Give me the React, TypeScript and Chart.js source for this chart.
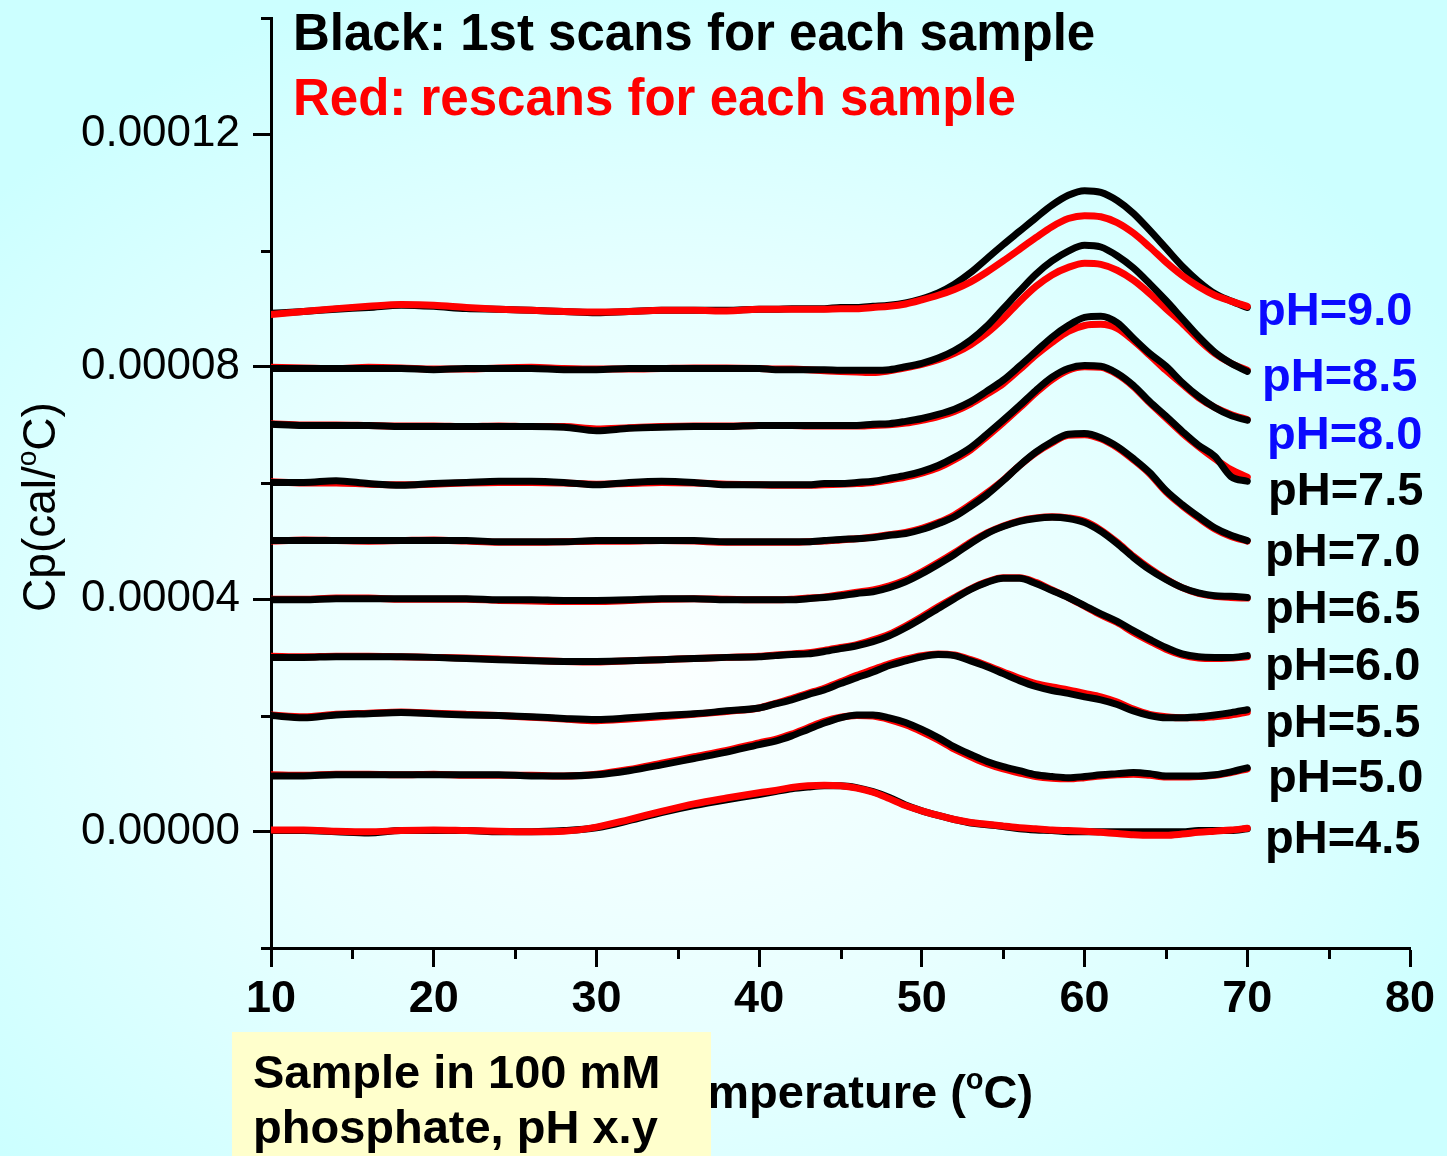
import React, { useEffect, useRef } from 'react';
import { Chart, registerables } from 'chart.js';

Chart.register(...registerables);

// Temperature grid (°C)
const temperatures = [
  10, 12, 14, 16, 18, 20, 22, 24, 26, 28, 30, 32, 34, 36, 38, 40,
  41, 42, 43, 44, 45, 46, 47, 48, 49, 50, 51, 52, 53, 54, 55, 56, 57, 58, 59, 60,
  61, 62, 63, 64, 65, 66, 67, 68, 69, 70,
];

// Cp values in units of 1e-6 cal/°C
const ph45First = [0.2, 0.2, 0.0, -0.2, 0.2, 0.2, 0.2, 0.0, 0.0, 0.2, 0.7, 1.9, 3.3, 4.5, 5.5, 6.4,
  6.9, 7.4, 7.7, 7.9, 7.9, 7.6, 6.9, 5.9, 4.6, 3.6, 2.8, 2.1, 1.5, 1.2, 0.9, 0.5, 0.3, 0.2, 0.0, 0.0,
  0.0, 0.0, 0.0, 0.0, 0.0, 0.0, 0.2, 0.2, 0.2, 0.5];
const ph45Rescan = [0.3, 0.3, 0.1, 0.0, 0.2, 0.3, 0.2, 0.1, 0.0, 0.1, 0.8, 2.1, 3.5, 4.8, 5.8, 6.7,
  7.1, 7.6, 7.9, 8.0, 7.9, 7.5, 6.8, 5.7, 4.5, 3.6, 2.8, 2.1, 1.6, 1.3, 1.0, 0.7, 0.5, 0.3, 0.2, 0.1,
  -0.1, -0.3, -0.5, -0.6, -0.6, -0.4, -0.1, 0.1, 0.3, 0.6];

const ph50First = [9.6, 9.6, 9.8, 9.8, 9.8, 9.8, 9.8, 9.8, 9.6, 9.6, 9.8, 10.5, 11.5, 12.6, 13.7, 15.0,
  15.6, 16.5, 17.6, 18.7, 19.6, 20.1, 20.1, 19.6, 18.8, 17.6, 16.2, 14.6, 13.3, 12.1, 11.2, 10.5, 9.8, 9.5, 9.3, 9.5,
  9.8, 10.0, 10.2, 10.0, 9.6, 9.6, 9.6, 9.8, 10.3, 11.0];
const ph50Rescan = [9.8, 9.7, 9.9, 9.9, 9.8, 9.9, 9.7, 9.7, 9.7, 9.6, 9.9, 10.7, 11.8, 12.9, 14.0, 15.3,
  15.9, 16.8, 17.9, 19.0, 19.7, 20.0, 19.9, 19.3, 18.4, 17.2, 15.8, 14.2, 12.9, 11.7, 10.8, 10.1, 9.5, 9.2, 9.1, 9.3,
  9.6, 9.8, 9.9, 9.7, 9.4, 9.4, 9.5, 9.7, 10.2, 10.8];

const ph55First = [20.0, 19.6, 20.1, 20.3, 20.5, 20.3, 20.1, 20.0, 19.8, 19.5, 19.3, 19.6, 20.0, 20.3, 20.8, 21.3,
  22.0, 22.7, 23.6, 24.4, 25.5, 26.5, 27.5, 28.6, 29.4, 30.1, 30.5, 30.3, 29.4, 28.4, 27.2, 26.0, 25.0, 24.3, 23.8, 23.2,
  22.7, 21.9, 20.8, 20.0, 19.6, 19.6, 19.8, 20.1, 20.5, 21.0];
const ph55Rescan = [20.1, 19.8, 20.2, 20.4, 20.6, 20.4, 20.2, 20.0, 19.7, 19.4, 19.1, 19.4, 19.8, 20.2, 20.7, 21.3,
  22.1, 22.9, 23.8, 24.7, 25.8, 26.9, 27.9, 28.9, 29.7, 30.3, 30.6, 30.4, 29.6, 28.6, 27.5, 26.4, 25.5, 24.9, 24.4, 23.8,
  23.2, 22.3, 21.1, 20.2, 19.8, 19.6, 19.6, 19.8, 20.1, 20.6];

const ph60First = [30.0, 30.0, 30.1, 30.1, 30.1, 30.0, 29.8, 29.6, 29.4, 29.3, 29.3, 29.4, 29.6, 29.8, 30.0, 30.1,
  30.3, 30.5, 30.6, 31.0, 31.5, 32.0, 32.7, 33.7, 35.1, 36.7, 38.4, 40.1, 41.7, 42.9, 43.6, 43.6, 42.7, 41.5, 40.3, 38.9,
  37.5, 36.2, 34.6, 33.1, 31.7, 30.6, 30.1, 30.0, 30.0, 30.3];
const ph60Rescan = [30.2, 30.1, 30.2, 30.2, 30.1, 30.0, 29.9, 29.7, 29.5, 29.3, 29.2, 29.4, 29.6, 29.8, 30.0, 30.2,
  30.4, 30.6, 30.8, 31.2, 31.7, 32.2, 33.0, 34.0, 35.4, 37.0, 38.7, 40.3, 41.8, 43.0, 43.7, 43.7, 42.9, 41.6, 40.3, 38.8,
  37.3, 36.0, 34.3, 32.8, 31.4, 30.4, 29.9, 29.8, 29.9, 30.1];

const ph65First = [39.9, 39.9, 40.1, 40.1, 40.1, 40.1, 40.1, 39.9, 39.9, 39.8, 39.8, 39.9, 40.1, 40.1, 39.9, 39.9,
  39.9, 39.9, 40.1, 40.3, 40.6, 41.0, 41.3, 42.0, 43.0, 44.4, 46.0, 47.7, 49.6, 51.3, 52.5, 53.4, 53.9, 54.1, 53.9, 53.2,
  51.7, 49.6, 47.2, 45.1, 43.4, 42.0, 41.1, 40.6, 40.5, 40.3];
const ph65Rescan = [40.0, 40.0, 40.2, 40.2, 40.0, 40.0, 40.0, 39.8, 39.7, 39.6, 39.6, 39.8, 40.0, 40.1, 40.0, 39.9,
  39.9, 40.0, 40.2, 40.4, 40.8, 41.2, 41.6, 42.3, 43.3, 44.7, 46.3, 48.0, 49.8, 51.4, 52.6, 53.5, 54.0, 54.2, 54.0, 53.4,
  51.9, 49.8, 47.4, 45.3, 43.5, 42.0, 41.0, 40.5, 40.3, 40.2];

const ph70First = [50.1, 50.1, 50.1, 50.1, 50.1, 50.1, 50.1, 49.9, 49.9, 49.9, 50.1, 50.1, 50.1, 50.1, 49.9, 49.9,
  49.9, 49.9, 49.9, 50.1, 50.3, 50.4, 50.6, 51.0, 51.3, 52.0, 53.0, 54.2, 56.0, 58.0, 60.4, 63.0, 65.3, 67.1, 68.4, 68.5,
  67.8, 66.3, 64.2, 61.8, 58.7, 56.3, 54.2, 52.3, 51.0, 50.1];
const ph70Rescan = [50.0, 50.2, 50.1, 50.0, 50.1, 50.2, 50.0, 49.8, 49.8, 49.9, 50.0, 50.0, 50.1, 50.0, 49.8, 49.8,
  49.8, 49.8, 49.9, 50.0, 50.2, 50.4, 50.7, 51.1, 51.5, 52.2, 53.2, 54.5, 56.3, 58.3, 60.5, 63.0, 65.2, 66.9, 68.2, 68.3,
  67.6, 66.1, 64.0, 61.6, 58.5, 56.1, 54.0, 52.1, 50.8, 50.0];

const ph75First = [60.1, 60.1, 60.4, 59.9, 59.6, 59.9, 60.1, 60.3, 60.3, 60.1, 59.7, 60.1, 60.3, 60.1, 59.7, 59.7,
  59.7, 59.7, 59.7, 59.9, 59.9, 60.1, 60.3, 60.8, 61.3, 62.0, 63.0, 64.4, 66.1, 68.4, 70.8, 73.3, 75.9, 78.2, 79.7, 80.2,
  80.1, 78.9, 76.8, 74.0, 71.5, 68.9, 66.5, 64.6, 61.1, 60.3];
const ph75Rescan = [60.2, 60.0, 60.0, 59.8, 59.7, 59.8, 60.0, 60.1, 60.1, 60.0, 59.8, 59.9, 60.1, 60.0, 59.8, 59.7,
  59.6, 59.6, 59.6, 59.7, 59.8, 59.9, 60.1, 60.5, 61.0, 61.7, 62.6, 64.0, 65.7, 68.0, 70.4, 72.9, 75.5, 77.8, 79.4, 80.0,
  79.9, 78.7, 76.6, 73.8, 71.2, 68.6, 66.3, 64.2, 62.3, 61.0];

const ph80First = [70.1, 69.9, 69.9, 69.9, 69.7, 69.7, 69.7, 69.7, 69.7, 69.6, 69.0, 69.4, 69.6, 69.7, 69.7, 69.9,
  69.9, 69.9, 69.9, 69.9, 69.9, 69.9, 70.1, 70.2, 70.6, 71.1, 71.8, 72.7, 74.0, 75.8, 77.7, 80.1, 82.6, 85.1, 87.1, 88.5,
  88.7, 87.6, 84.9, 82.3, 80.1, 77.3, 74.9, 73.0, 71.6, 70.8];
const ph80Rescan = [70.2, 70.0, 70.0, 69.9, 69.8, 69.8, 69.7, 69.8, 69.7, 69.7, 69.3, 69.5, 69.7, 69.8, 69.8, 69.9,
  69.9, 69.9, 69.8, 69.8, 69.8, 69.8, 69.9, 70.0, 70.3, 70.8, 71.4, 72.3, 73.6, 75.3, 77.1, 79.5, 82.0, 84.2, 86.1, 87.1,
  87.3, 86.6, 84.5, 82.0, 79.4, 77.0, 74.7, 73.0, 71.8, 70.9];

const ph85First = [79.7, 79.7, 79.7, 79.7, 79.7, 79.5, 79.7, 79.7, 79.7, 79.5, 79.5, 79.7, 79.7, 79.7, 79.7, 79.7,
  79.5, 79.5, 79.5, 79.5, 79.4, 79.4, 79.4, 79.5, 80.0, 80.6, 81.5, 82.8, 84.6, 87.0, 90.0, 93.0, 95.9, 98.2, 99.9, 100.9,
  100.6, 99.1, 97.0, 94.3, 91.4, 88.3, 85.2, 82.5, 80.6, 79.2];
const ph85Rescan = [79.9, 79.8, 79.7, 79.9, 79.8, 79.6, 79.6, 79.8, 79.9, 79.7, 79.6, 79.6, 79.7, 79.8, 79.8, 79.7,
  79.6, 79.6, 79.5, 79.3, 79.2, 79.1, 79.0, 79.3, 79.8, 80.4, 81.2, 82.3, 83.8, 85.8, 88.3, 91.2, 93.8, 95.8, 97.1, 97.8,
  97.6, 96.6, 94.9, 92.6, 90.0, 87.5, 84.7, 82.3, 80.6, 79.4];

const ph90First = [89.2, 89.5, 89.9, 90.2, 90.6, 90.4, 90.0, 89.9, 89.7, 89.5, 89.3, 89.5, 89.7, 89.7, 89.7, 89.9,
  89.9, 90.0, 90.0, 90.0, 90.2, 90.2, 90.4, 90.6, 91.0, 91.7, 92.7, 94.2, 96.2, 98.6, 101.0, 103.3, 105.6, 107.8, 109.5, 110.3,
  110.0, 108.6, 106.4, 103.5, 100.4, 97.3, 94.7, 92.6, 91.3, 90.2];
const ph90Rescan = [89.0, 89.5, 90.0, 90.4, 90.7, 90.6, 90.2, 89.9, 89.7, 89.5, 89.4, 89.5, 89.7, 89.7, 89.6, 89.9,
  89.9, 89.9, 89.9, 89.9, 90.0, 90.0, 90.2, 90.4, 90.8, 91.5, 92.3, 93.3, 94.6, 96.3, 98.2, 100.2, 102.2, 104.1, 105.5, 106.0,
  105.8, 104.8, 103.0, 100.6, 98.0, 95.7, 93.8, 92.3, 91.3, 90.4];

const phLabels = ['pH=4.5', 'pH=5.0', 'pH=5.5', 'pH=6.0', 'pH=6.5', 'pH=7.0', 'pH=7.5', 'pH=8.0', 'pH=8.5', 'pH=9.0'];
const firstScans = [ph45First, ph50First, ph55First, ph60First, ph65First, ph70First, ph75First, ph80First, ph85First, ph90First];
const rescans = [ph45Rescan, ph50Rescan, ph55Rescan, ph60Rescan, ph65Rescan, ph70Rescan, ph75Rescan, ph80Rescan, ph85Rescan, ph90Rescan];
const redOnTop = [true, false, false, false, false, false, false, false, false, true];

const UNIT = 1e-6;

// styling / layout (not data)
const labelColors = ['#000', '#000', '#000', '#000', '#000', '#000', '#000', '#0a0aff', '#0a0aff', '#0a0aff'];
const labelPos = [
  { x: 1265, y: 840 }, { x: 1268, y: 779 }, { x: 1265, y: 724 }, { x: 1265, y: 667 }, { x: 1265, y: 610 },
  { x: 1265, y: 553 }, { x: 1268, y: 492 }, { x: 1267, y: 436 }, { x: 1262, y: 378 }, { x: 1257, y: 312 },
];
const FONT = '"Liberation Sans", Arial, Helvetica, sans-serif';
const W = 1447;
const H = 1156;

function drawParts(ctx: CanvasRenderingContext2D, parts: { t: string; f: string; dy: number }[], x: number, y: number) {
  let total = 0;
  for (const p of parts) { ctx.font = p.f; total += ctx.measureText(p.t).width; }
  let cx = x - total / 2;
  ctx.textAlign = 'left';
  ctx.textBaseline = 'alphabetic';
  for (const p of parts) {
    ctx.font = p.f;
    ctx.fillText(p.t, cx, y + p.dy);
    cx += ctx.measureText(p.t).width;
  }
}

const overlayPlugin = {
  id: 'overlay',
  afterDraw(chart: any) {
    const ctx: CanvasRenderingContext2D = chart.ctx;
    const xs = chart.scales.x;
    const ys = chart.scales.y;
    ctx.save();
    // minor ticks
    ctx.strokeStyle = '#000';
    ctx.lineWidth = 3;
    ctx.lineCap = 'butt';
    xs.ticks.forEach((t: any) => {
      if (t.label === '') {
        const px = Math.round(xs.getPixelForValue(t.value)) + 0.5;
        ctx.beginPath();
        ctx.moveTo(px, chart.chartArea.bottom);
        ctx.lineTo(px, chart.chartArea.bottom + 11);
        ctx.stroke();
      }
    });
    ys.ticks.forEach((t: any) => {
      if (t.label === '') {
        const py = Math.round(ys.getPixelForValue(t.value)) + 0.5;
        ctx.beginPath();
        ctx.moveTo(chart.chartArea.left, py);
        ctx.lineTo(chart.chartArea.left - 10, py);
        ctx.stroke();
      }
    });

    // headings
    ctx.textAlign = 'left';
    ctx.textBaseline = 'alphabetic';
    ctx.font = `bold 51px ${FONT}`;
    ctx.fillStyle = '#000';
    ctx.fillText('Black: 1st scans for each sample', 293, 50);
    ctx.fillStyle = '#ff0000';
    ctx.fillText('Red: rescans for each sample', 293, 115);

    // pH labels
    ctx.font = `bold 47px ${FONT}`;
    ctx.textBaseline = 'middle';
    phLabels.forEach((lab, i) => {
      ctx.fillStyle = labelColors[i];
      ctx.fillText(lab, labelPos[i].x, labelPos[i].y);
    });

    // axis titles
    ctx.fillStyle = '#000';
    const cx = (chart.chartArea.left + chart.chartArea.right) / 2 + 4;
    drawParts(ctx, [
      { t: 'Temperature (', f: `bold 47px ${FONT}`, dy: 0 },
      { t: 'o', f: `bold 29px ${FONT}`, dy: -19 },
      { t: 'C)', f: `bold 47px ${FONT}`, dy: 0 },
    ], cx, 1108);

    ctx.save();
    ctx.translate(55, 507);
    ctx.rotate(-Math.PI / 2);
    drawParts(ctx, [
      { t: 'Cp(cal/', f: `46px ${FONT}`, dy: 0 },
      { t: 'o', f: `28px ${FONT}`, dy: -19 },
      { t: 'C)', f: `46px ${FONT}`, dy: 0 },
    ], 0, 0);
    ctx.restore();

    // note box
    ctx.fillStyle = '#ffffcc';
    ctx.fillRect(232, 1032, 479, 124);
    ctx.fillStyle = '#000';
    ctx.font = `bold 47px ${FONT}`;
    ctx.textAlign = 'left';
    ctx.textBaseline = 'alphabetic';
    ctx.fillText('Sample in 100 mM', 253, 1088);
    ctx.fillText('phosphate, pH x.y', 253, 1143);
    ctx.restore();
  },
};

export default function App() {
  const ref = useRef<HTMLCanvasElement | null>(null);

  useEffect(() => {
    if (!ref.current) return;
    const datasets: any[] = [];
    phLabels.forEach((lab, i) => {
      datasets.push({
        label: `${lab} rescan`,
        data: temperatures.map((t, j) => ({ x: t, y: rescans[i][j] * UNIT })),
        borderColor: '#ff0000',
        order: redOnTop[i] ? 0 : 2,
      });
      datasets.push({
        label: `${lab} 1st scan`,
        data: temperatures.map((t, j) => ({ x: t, y: firstScans[i][j] * UNIT })),
        borderColor: '#000000',
        order: 1,
      });
    });
    datasets.forEach((d) => {
      d.borderWidth = 7;
      d.pointRadius = 0;
      d.fill = false;
      d.cubicInterpolationMode = 'monotone';
      d.borderCapStyle = 'round';
      d.borderJoinStyle = 'round';
    });

    const majorTickColor = (c: any) => (c.tick && c.tick.label !== '' ? '#000' : 'rgba(0,0,0,0)');

    const chart = new Chart(ref.current, {
      type: 'line',
      data: { datasets },
      options: {
        animation: false,
        responsive: false,
        devicePixelRatio: 1,
        layout: { padding: { top: 18, right: 37, left: 0, bottom: 0 } },
        plugins: { legend: { display: false }, tooltip: { enabled: false } },
        scales: {
          x: {
            type: 'linear',
            position: 'bottom',
            min: 10,
            max: 80,
            border: { display: true, color: '#000', width: 3 },
            grid: { drawOnChartArea: false, drawTicks: true, tickLength: 19, tickWidth: 3, tickColor: majorTickColor },
            ticks: {
              stepSize: 5,
              autoSkip: false,
              maxRotation: 0,
              padding: 6,
              color: '#000',
              font: { family: FONT, size: 45, weight: 'bold' },
              callback: (v: any) => (Math.round(Number(v)) % 10 === 0 ? String(Math.round(Number(v))) : ''),
            },
            afterFit: (s: any) => { s.height = H - 948; s.paddingLeft = 0; s.paddingRight = 0; },
          },
          y: {
            type: 'linear',
            position: 'left',
            min: -0.00002,
            max: 0.00014,
            border: { display: true, color: '#000', width: 3 },
            grid: { drawOnChartArea: false, drawTicks: true, tickLength: 18, tickWidth: 3, tickColor: majorTickColor },
            ticks: {
              stepSize: 0.00002,
              autoSkip: false,
              padding: 13,
              color: '#000',
              font: { family: FONT, size: 44 },
              callback: (v: any) => {
                const k = Math.round(Number(v) / 0.00002);
                return k % 2 === 0 ? (k * 0.00002).toFixed(5) : '';
              },
            },
            afterFit: (s: any) => { s.width = 271; s.paddingTop = 0; s.paddingBottom = 0; },
          },
        },
      } as any,
      plugins: [overlayPlugin],
    });
    return () => chart.destroy();
  }, []);

  return (
    <div
      style={{
        position: 'fixed',
        left: 0,
        top: 0,
        width: W,
        height: H,
        overflow: 'hidden',
        background: 'radial-gradient(ellipse 62% 62% at 46% 58%, #fbffff 0%, #e8ffff 50%, #ccffff 100%)',
      }}
    >
      <canvas ref={ref} width={W} height={H} style={{ display: 'block', width: W, height: H }} />
    </div>
  );
}
